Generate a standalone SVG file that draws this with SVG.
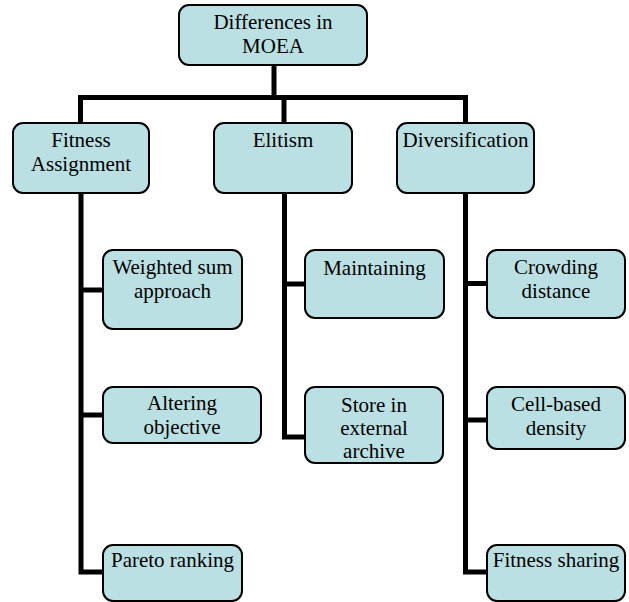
<svg xmlns="http://www.w3.org/2000/svg" width="629" height="602" viewBox="0 0 629 602">
<style>
.box{fill:#BAE0E3;stroke:#000;stroke-width:2}
.con{fill:none;stroke:#000;stroke-width:5;stroke-linejoin:miter;stroke-linecap:butt}
.t{font-size:21px;fill:#000;text-anchor:middle}
</style>
<rect width="629" height="602" fill="#fff"/>
<g id="connectors">
<path class="con" d="M274 65 V97.5"/>
<path class="con" d="M80.5 123 V97.5 H465.5 V123"/>
<path class="con" d="M284 97.5 V123"/>
<path class="con" d="M81 193 V572 H104"/>
<path class="con" d="M81 290 H104"/>
<path class="con" d="M81 415 H104"/>
<path class="con" d="M284.5 193 V437 H306"/>
<path class="con" d="M284.5 284 H306"/>
<path class="con" d="M465.5 193 V572 H488"/>
<path class="con" d="M465.5 283.5 H488"/>
<path class="con" d="M465.5 420 H488"/>
</g>
<g class="t" font-family="'Liberation Serif', 'DejaVu Serif', serif">
<g id="root"><rect class="box" x="179" y="5" width="188" height="60" rx="10"/><text x="273" y="29">Differences in</text><text x="273" y="53">MOEA</text></g>
<g id="fitness"><rect class="box" x="13" y="123" width="136" height="70" rx="10"/><text x="81" y="147">Fitness</text><text x="81" y="171">Assignment</text></g>
<g id="elitism"><rect class="box" x="214" y="123" width="138" height="70" rx="10"/><text x="283" y="147">Elitism</text></g>
<g id="diversification"><rect class="box" x="397" y="123" width="137" height="70" rx="10"/><text x="465.5" y="147">Diversification</text></g>
<g id="weighted"><rect class="box" x="103" y="250" width="139" height="79" rx="10"/><text x="172.5" y="274">Weighted sum</text><text x="172.5" y="298">approach</text></g>
<g id="altering"><rect class="box" x="103" y="387" width="158" height="56" rx="10"/><text x="182" y="410">Altering</text><text x="182" y="434">objective</text></g>
<g id="pareto"><rect class="box" x="103" y="545" width="139" height="56" rx="10"/><text x="172.5" y="567">Pareto ranking</text></g>
<g id="maintaining"><rect class="box" x="305" y="250" width="139" height="68" rx="10"/><text x="374.5" y="275">Maintaining</text></g>
<g id="store"><rect class="box" x="305" y="387" width="138" height="76" rx="10"/><text x="374" y="412">Store in</text><text x="374" y="435">external</text><text x="374" y="458">archive</text></g>
<g id="crowding"><rect class="box" x="487" y="250" width="138" height="68" rx="10"/><text x="556" y="274">Crowding</text><text x="556" y="298">distance</text></g>
<g id="cell"><rect class="box" x="487" y="387" width="138" height="62" rx="10"/><text x="556" y="411">Cell-based</text><text x="556" y="435">density</text></g>
<g id="sharing"><rect class="box" x="487" y="545" width="138" height="56" rx="10"/><text x="556" y="567">Fitness sharing</text></g>
</g>
</svg>
